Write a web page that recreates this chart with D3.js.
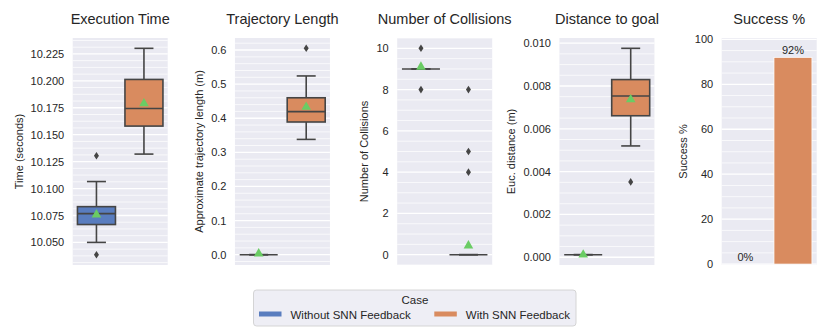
<!DOCTYPE html>
<html>
<head>
<meta charset="utf-8">
<script src="https://cdn.jsdelivr.net/npm/d3@7"></script>
<style>
  body { margin: 0; background: #ffffff; }
  svg { display: block; font-family: "Liberation Sans", Arial, sans-serif; }
</style>
</head>
<body>
<svg id="chart" width="830" height="332"></svg>
<script>
// ---------------- DATA ----------------
const cases = ["Without SNN Feedback", "With SNN Feedback"];
const titles = ["Execution Time", "Trajectory Length", "Number of Collisions", "Distance to goal", "Success %"];
const yLabels = ["Time (seconds)", "Approximate trajectory length (m)", "Number of Collisions", "Euc. distance (m)", "Success %"];

// box stats per case: [whisker low, Q1, median, Q3, whisker high]
const execTimeBox = [[10.050, 10.0666, 10.0767, 10.0832, 10.1065], [10.132, 10.158, 10.1743, 10.2013, 10.2302]];
const execTimeMean = [10.0758, 10.179];
const execTimeOutliers = [[10.1304, 10.0386], []];

const trajLengthBox = [[0.0, 0.0, 0.0, 0.0, 0.0], [0.338, 0.389, 0.4194, 0.460, 0.524]];
const trajLengthMean = [0.003, 0.433];
const trajLengthOutliers = [[], [0.605]];

const collisionsBox = [[9, 9, 9, 9, 9], [0, 0, 0, 0, 0]];
const collisionsMean = [9.1, 0.44];
const collisionsOutliers = [[10, 8], [8, 5, 4]];

const distGoalBox = [[0.00012, 0.00012, 0.00012, 0.00012, 0.00012], [0.0052, 0.00661, 0.00753, 0.0083, 0.00976]];
const distGoalMean = [0.00012, 0.00737];
const distGoalOutliers = [[], [0.00352]];

const successPct = [0, 92];

// tick labels
const execTimeTicks = [10.050, 10.075, 10.100, 10.125, 10.150, 10.175, 10.200, 10.225];
const trajLengthTicks = [0.0, 0.1, 0.2, 0.3, 0.4, 0.5, 0.6];
const collisionsTicks = [0, 2, 4, 6, 8, 10];
const distGoalTicks = [0.000, 0.002, 0.004, 0.006, 0.008, 0.010];
const successTicks = [0, 20, 40, 60, 80, 100];
const successDomain = [-0.4, 100.6];

// ---------------- STYLE ----------------
const caseColors = ["#597dbf", "#d98b5f"];
const lineColor = "#454545";
const meanColor = "#6acc64";
const bgColor = "#eaeaf2";

const svg = d3.select("#chart");
const plotTop = 38, plotBottom = 265, plotW = 95;
const firstLeft = 72.7, panelStep = 162.25;

function padDomain(values) {
  const [mn, mx] = d3.extent(values);
  const m = (mx - mn) * 0.05;
  return [mn - m, mx + m];
}

function minorValues(domain, step, majors) {
  const out = [];
  const start = Math.ceil(domain[0] / step - 1e-9);
  const end = Math.floor(domain[1] / step + 1e-9);
  for (let k = start; k <= end; k++) {
    const v = k * step;
    if (!majors.some(t => Math.abs(t - v) < step * 1e-3)) out.push(v);
  }
  return out;
}

const panels = [
  { box: execTimeBox, mean: execTimeMean, out: execTimeOutliers, ticks: execTimeTicks, minor: 0.00625, fmt: d3.format(".3f") },
  { box: trajLengthBox, mean: trajLengthMean, out: trajLengthOutliers, ticks: trajLengthTicks, minor: 0.02, fmt: d3.format(".1f") },
  { box: collisionsBox, mean: collisionsMean, out: collisionsOutliers, ticks: collisionsTicks, minor: 0.5, fmt: d3.format("d") },
  { box: distGoalBox, mean: distGoalMean, out: distGoalOutliers, ticks: distGoalTicks, minor: 0.0005, fmt: d3.format(".3f") },
  { bar: successPct, ticks: successTicks, minor: 5, fmt: d3.format("d"), domain: successDomain }
];

panels.forEach((p, i) => {
  const left = firstLeft + i * panelStep;
  const g = svg.append("g");
  let domain;
  if (p.bar) {
    domain = p.domain;
  } else {
    const all = [];
    p.box.forEach(b => all.push(...b));
    p.out.forEach(o => all.push(...o));
    domain = padDomain(all);
  }
  const y = d3.scaleLinear().domain(domain).range([plotBottom, plotTop]);
  const x = d3.scaleBand().domain(cases).range([left, left + plotW]);
  const bw = x.bandwidth() * 0.8;

  // background
  g.append("rect").attr("x", left).attr("y", plotTop).attr("width", plotW)
    .attr("height", plotBottom - plotTop).attr("fill", bgColor);

  // minor grid
  g.selectAll(".minor").data(minorValues(domain, p.minor, p.ticks)).join("line")
    .attr("x1", left).attr("x2", left + plotW)
    .attr("y1", d => y(d)).attr("y2", d => y(d))
    .attr("stroke", "#ffffff").attr("stroke-width", 0.7);
  // major grid
  g.selectAll(".major").data(p.ticks).join("line")
    .attr("x1", left).attr("x2", left + plotW)
    .attr("y1", d => y(d)).attr("y2", d => y(d))
    .attr("stroke", "#ffffff").attr("stroke-width", 1.3);

  // y axis
  const ax = g.append("g").attr("transform", `translate(${left},0)`)
    .call(d3.axisLeft(y).tickValues(p.ticks).tickSize(0).tickPadding(8.5).tickFormat(p.fmt));
  ax.select(".domain").remove();
  ax.selectAll("text").attr("font-size", "11px").attr("fill", "#262626")
    .attr("font-family", "'Liberation Sans', Arial, sans-serif");

  // y label
  const labelX = ax.node().getBBox().x + left - 8;
  g.append("text")
    .attr("transform", `translate(${labelX},${(plotTop + plotBottom) / 2}) rotate(-90)`)
    .attr("text-anchor", "middle").attr("font-size", "11px").attr("fill", "#262626")
    .text(yLabels[i]);

  // title
  g.append("text").attr("x", left + plotW / 2).attr("y", 23.5)
    .attr("text-anchor", "middle").attr("font-size", "14.5px").attr("fill", "#262626")
    .text(titles[i]);

  if (p.bar) {
    cases.forEach((c, k) => {
      const cx = x(c) + x.bandwidth() / 2;
      if (p.bar[k] > 0) {
        g.append("rect").attr("x", cx - bw / 2).attr("y", y(p.bar[k]))
          .attr("width", bw).attr("height", y(0) - y(p.bar[k]))
          .attr("fill", caseColors[k]).attr("stroke", "#ffffff").attr("stroke-width", 0.8);
      }
      g.append("text").attr("x", cx).attr("y", y(p.bar[k]) - 3)
        .attr("text-anchor", "middle").attr("font-size", "11px").attr("fill", "#262626")
        .text(p.bar[k] + "%");
    });
    return;
  }

  cases.forEach((c, k) => {
    const cx = x(c) + x.bandwidth() / 2;
    const [lo, q1, med, q3, hi] = p.box[k];
    // whiskers
    g.append("line").attr("x1", cx).attr("x2", cx).attr("y1", y(q3)).attr("y2", y(hi))
      .attr("stroke", lineColor).attr("stroke-width", 1.6);
    g.append("line").attr("x1", cx).attr("x2", cx).attr("y1", y(q1)).attr("y2", y(lo))
      .attr("stroke", lineColor).attr("stroke-width", 1.6);
    [lo, hi].forEach(v => {
      g.append("line").attr("x1", cx - bw / 4).attr("x2", cx + bw / 4).attr("y1", y(v)).attr("y2", y(v))
        .attr("stroke", lineColor).attr("stroke-width", 1.6);
    });
    // box
    if (q3 > q1) {
      g.append("rect").attr("x", cx - bw / 2).attr("y", y(q3)).attr("width", bw)
        .attr("height", y(q1) - y(q3)).attr("fill", caseColors[k])
        .attr("stroke", lineColor).attr("stroke-width", 1.6);
    }
    // median
    g.append("line").attr("x1", cx - bw / 2).attr("x2", cx + bw / 2).attr("y1", y(med)).attr("y2", y(med))
      .attr("stroke", lineColor).attr("stroke-width", 1.6);
    // outliers
    g.selectAll(null).data(p.out[k]).join("path")
      .attr("d", "M0,-3.8L2.5,0L0,3.8L-2.5,0Z")
      .attr("transform", d => `translate(${cx},${y(d)})`)
      .attr("fill", lineColor);
    // mean
    g.append("path").attr("d", d3.symbol().type(d3.symbolTriangle).size(40)())
      .attr("transform", `translate(${cx},${y(p.mean[k])})`)
      .attr("fill", meanColor);
  });
});

// ---------------- LEGEND ----------------
const lg = svg.append("g");
lg.append("rect").attr("x", 253.5).attr("y", 290).attr("width", 322.5).attr("height", 36)
  .attr("rx", 3).attr("fill", "#eeeef5").attr("stroke", "#cccccc").attr("stroke-width", 0.8);
lg.append("text").attr("x", 415).attr("y", 304).attr("text-anchor", "middle")
  .attr("font-size", "11.5px").attr("fill", "#262626").text("Case");
const legendX = [259, 434.3];
cases.forEach((c, k) => {
  lg.append("rect").attr("x", legendX[k]).attr("y", 311.5).attr("width", 22.5).attr("height", 5)
    .attr("fill", caseColors[k]);
  lg.append("text").attr("x", legendX[k] + 31.5).attr("y", 318.5)
    .attr("font-size", "11.5px").attr("fill", "#262626").text(c);
});
</script>
</body>
</html>
